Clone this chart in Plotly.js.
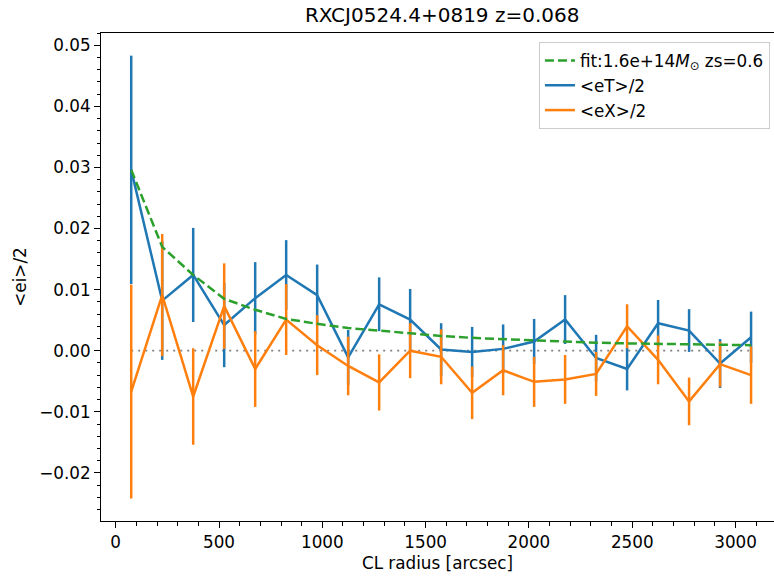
<!DOCTYPE html>
<html>
<head>
<meta charset="utf-8">
<script src="https://cdn.plot.ly/plotly-3.0.1.min.js"></script>
<style>html,body{margin:0;padding:0;background:#fff;}#chart{width:774px;height:579px;}</style>
</head>
<body>
<div id="chart"></div>
<script>
// CL radius bin centres [arcsec]
const radius = [75, 225, 375, 525, 675, 825, 975, 1125, 1275, 1425, 1575, 1725, 1875, 2025, 2175, 2325, 2475, 2625, 2775, 2925, 3075];
// <eT>/2 and its error
const eT    = [0.0296, 0.0082, 0.0124, 0.0042, 0.0086, 0.0124, 0.0091, -0.0011, 0.0076, 0.0051, 0.0002, -0.0002, 0.0003, 0.0015, 0.0051, -0.0012, -0.0030, 0.0045, 0.0033, -0.0021, 0.0022];
const eTerr = [0.0187, 0.0097, 0.0077, 0.0069, 0.0059, 0.0057, 0.0050, 0.0045, 0.0044, 0.0050, 0.0043, 0.0041, 0.0040, 0.0037, 0.0040, 0.0038, 0.0035, 0.0038, 0.0035, 0.0040, 0.0042];
// <eX>/2 and its error
const eX    = [-0.0067, 0.0091, -0.0075, 0.0073, -0.0030, 0.0051, 0.0009, -0.0025, -0.0052, 0.0000, -0.0010, -0.0069, -0.0032, -0.0051, -0.0047, -0.0038, 0.0040, -0.0015, -0.0083, -0.0022, -0.0040];
const eXerr = [0.0175, 0.0100, 0.0079, 0.0070, 0.0062, 0.0058, 0.0049, 0.0048, 0.0046, 0.0045, 0.0045, 0.0043, 0.0041, 0.0041, 0.0040, 0.0036, 0.0036, 0.0040, 0.0039, 0.0037, 0.0047];
// NFW fit curve
const fit   = [0.0296, 0.0170, 0.0124, 0.0085, 0.0067, 0.0052, 0.0044, 0.0037, 0.0033, 0.0028, 0.0024, 0.0021, 0.0019, 0.0016, 0.0015, 0.0013, 0.0012, 0.0011, 0.0010, 0.0010, 0.0009];
// labels
const titleText = "RXCJ0524.4+0819 z=0.068";
const fitLabel = "fit:1.6e+14<i>M</i><sub>⊙</sub> zs=0.6";
const eTLabel = "&lt;eT&gt;/2";
const eXLabel = "&lt;eX&gt;/2";
const xLabel = "CL radius [arcsec]";
const yLabel = "&lt;ei&gt;/2";
const zeroLevel = [0, 0];

const FONT = "DejaVu Sans, Liberation Sans, sans-serif";
const FS = 16.8;

const traces = [
  {
    x: [radius[0], radius[radius.length - 1]], y: zeroLevel,
    mode: "lines", showlegend: false, hoverinfo: "skip",
    line: {color: "#808080", width: 1.8, dash: "2px,5px"}
  },
  {
    x: radius, y: eT, name: eTLabel, legendrank: 2,
    mode: "lines", line: {color: "#1f77b4", width: 2.5},
    error_y: {type: "data", array: eTerr, visible: true, color: "#1f77b4", thickness: 2.5, width: 0}
  },
  {
    x: radius, y: eX, name: eXLabel, legendrank: 3,
    mode: "lines", line: {color: "#ff7f0e", width: 2.5},
    error_y: {type: "data", array: eXerr, visible: true, color: "#ff7f0e", thickness: 2.5, width: 0}
  },
  {
    x: radius, y: fit, name: fitLabel, legendrank: 1,
    mode: "lines", line: {color: "#2ca02c", width: 2.5, dash: "9px,4px"}
  }
];

const layout = {
  width: 774, height: 579,
  margin: {l: 101, r: 0, t: 33, b: 58, pad: 0},
  paper_bgcolor: "#ffffff", plot_bgcolor: "#ffffff",
  font: {family: FONT, size: FS, color: "#000000"},
  title: {text: titleText, font: {family: FONT, size: 20, color: "#000000"},
          xref: "paper", x: 0.507, xanchor: "center", yref: "container", y: 0.974, yanchor: "middle"},
  showlegend: true,
  legend: {x: 0.994, xanchor: "right", y: 0.9816, yanchor: "top",
           bgcolor: "rgba(255,255,255,0.8)", bordercolor: "#cccccc", borderwidth: 1,
           font: {family: FONT, size: FS, color: "#000000"}, traceorder: "normal"},
  xaxis: {
    range: [-71.2, 3186], autorange: false,
    showgrid: false, zeroline: false,
    showline: true, linecolor: "#000000", linewidth: 1, mirror: true,
    ticks: "outside", ticklen: 6, tickwidth: 1, tickcolor: "#000000",
    tick0: 0, dtick: 500, tickfont: {family: FONT, size: FS, color: "#000000"},
    minor: {ticks: "outside", ticklen: 3.5, tickwidth: 1, tickcolor: "#000000", dtick: 100, tick0: 0, showgrid: false},
    title: {text: xLabel, font: {family: FONT, size: FS, color: "#000000"}, standoff: 6},
    automargin: false
  },
  yaxis: {
    range: [-0.02788, 0.05201], autorange: false,
    showgrid: false, zeroline: false,
    showline: true, linecolor: "#000000", linewidth: 1, mirror: false,
    ticks: "outside", ticklen: 6, tickwidth: 1, tickcolor: "#000000",
    tick0: 0, dtick: 0.01, tickformat: ".2f", tickfont: {family: FONT, size: FS, color: "#000000"},
    minor: {ticks: "outside", ticklen: 3.5, tickwidth: 1, tickcolor: "#000000", dtick: 0.002, tick0: 0, showgrid: false},
    title: {text: yLabel, font: {family: FONT, size: FS, color: "#000000"}, standoff: 8},
    automargin: false
  }
};

Plotly.newPlot("chart", traces, layout, {staticPlot: true, displayModeBar: false});
</script>
</body>
</html>
